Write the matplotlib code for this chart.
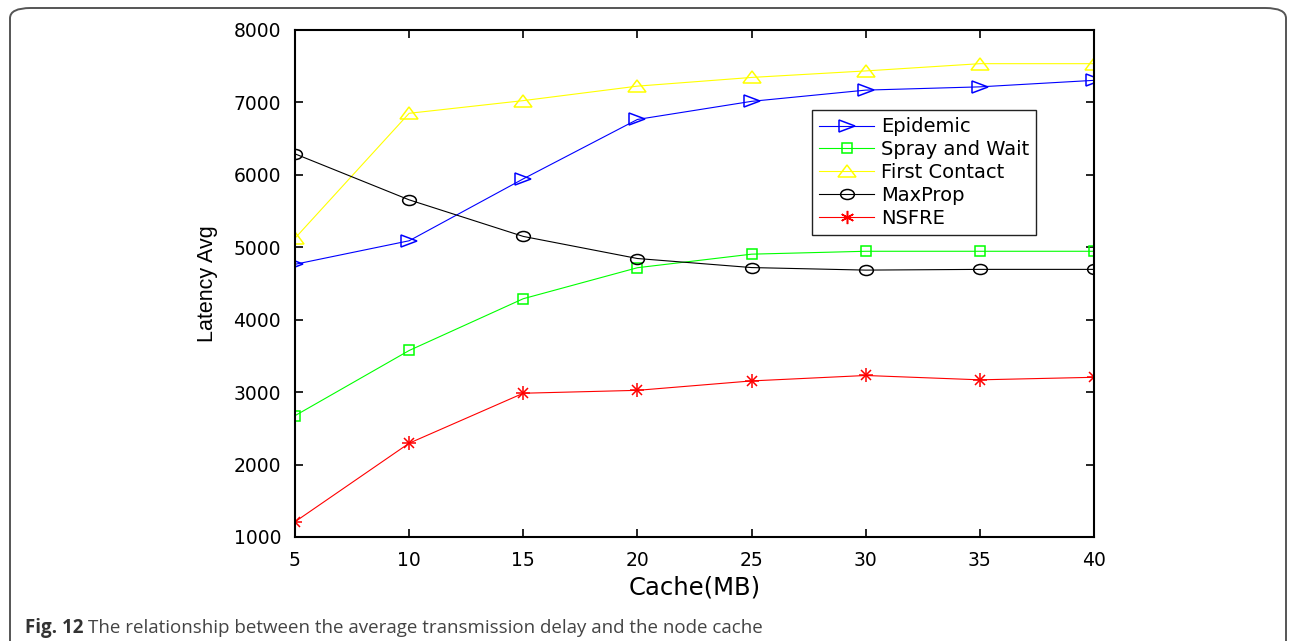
import numpy as np
import matplotlib
matplotlib.use('Agg')
import matplotlib.pyplot as plt
from matplotlib.markers import MarkerStyle
from matplotlib.transforms import Affine2D
from matplotlib.patches import FancyBboxPatch

cache = [5, 10, 15, 20, 25, 30, 35, 40]
epidemic = [4765, 5090, 5945, 6765, 7015, 7170, 7215, 7305]
spray_wait = [2675, 3575, 4290, 4718, 4905, 4945, 4945, 4945]
first_contact = [5125, 6850, 7025, 7225, 7345, 7435, 7535, 7535]
maxprop = [6290, 5655, 5150, 4845, 4720, 4685, 4695, 4695]
nsfre = [1210, 2295, 2985, 3025, 3155, 3230, 3170, 3205]

series_names = ['Epidemic', 'Spray and Wait', 'First Contact', 'MaxProp', 'NSFRE']
yticks = [1000, 2000, 3000, 4000, 5000, 6000, 7000, 8000]

W, H = 1290, 641
fig = plt.figure(figsize=(W / 100, H / 100), dpi=100)
ax = fig.add_axes([295 / W, 1 - 537 / H, (1094 - 295) / W, (537 - 30) / H])

# the original picture is stretched sideways, so widen the markers a bit
def wide(m, sx=1.3):
    return MarkerStyle(m, transform=Affine2D().scale(sx, 1.0))

styles = [
    (epidemic, 'blue', wide('>', 1.25), 8.8),
    (spray_wait, '#00ff00', wide('s', 1.12), 6.8),
    (first_contact, '#ffff00', wide('^', 1.6), 8.2),
    (maxprop, 'black', wide('o', 1.37), 7.2),
]
for (vals, col, mk, ms), name in zip(styles, series_names):
    ax.plot(cache, vals, color=col, lw=0.8, marker=mk, ms=ms, mew=1.1,
            mfc='none', label=name)

# asterisk = plus + cross
ax.plot(cache, nsfre, color='red', lw=0.8, marker=wide('+', 1.05), ms=9.5,
        mew=1.1)
ax.plot(cache, nsfre, color='red', lw=0, marker=wide('x', 1.05), ms=7,
        mew=1.1)
ax.plot([], [], color='red', lw=0.8, marker=(6, 2, 0), ms=9.5, mew=1.1,
        label=series_names[4])

ax.set_xlim(5, 40)
ax.set_ylim(1000, 8000)
ax.set_xticks(cache)
ax.set_yticks(yticks)
ax.tick_params(direction='in', length=6, width=1.2, top=True, right=True,
               labelsize=13.5, pad=10, colors='black')
for lab in ax.get_xticklabels() + ax.get_yticklabels():
    lab.set_family('DejaVu Sans')
for sp in ax.spines.values():
    sp.set_linewidth(1.5)

ax.set_xlabel('Cache(MB)', fontsize=17.5, family='DejaVu Sans', labelpad=4)
ax.set_ylabel('Latency Avg', fontsize=15.5, family='Liberation Sans', labelpad=11)

leg = ax.legend(loc='upper left', bbox_to_anchor=(812 / W, 1 - 110 / H),
                bbox_transform=fig.transFigure, fancybox=False, framealpha=1,
                edgecolor='#222222', handlelength=2.8,
                handletextpad=0.36, labelspacing=0.2, borderpad=0.38,
                borderaxespad=0, numpoints=1,
                prop={'family': 'DejaVu Sans', 'size': 14})
leg.get_frame().set_linewidth(1.0)

# page frame around the figure (open at the bottom)
frame = FancyBboxPatch((10 / W, -0.2), (1286 - 10) / W, 1 - 8 / H + 0.2,
                       boxstyle='round,pad=0,rounding_size=0.016',
                       transform=fig.transFigure, fill=False,
                       edgecolor='#555555', lw=1.4, clip_on=False)
fig.patches.append(frame)

fig.text(25 / W, 1 - 628 / H, 'Fig. 12', fontsize=13.5, fontweight='bold',
         family='Open Sans', color='#333333', va='center')
fig.text(88 / W, 1 - 628 / H,
         'The relationship between the average transmission delay and the node cache',
         fontsize=13.5, family='Open Sans', color='#444444', va='center')

fig.savefig('out.png', dpi=100)
plt.close(fig)
